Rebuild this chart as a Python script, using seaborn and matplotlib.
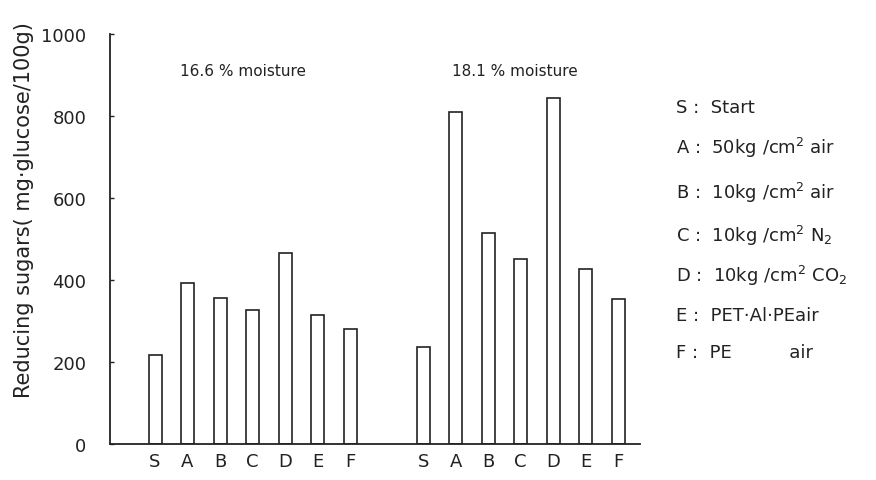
import matplotlib
matplotlib.use("Agg")
import matplotlib.pyplot as plt
import seaborn as sns
import pandas as pd
import numpy as np

# ---- data ----
treatments = ["S", "A", "B", "C", "D", "E", "F"]
moisture_groups = ["16.6 % moisture", "18.1 % moisture"]
sugars_166 = [217, 393, 356, 328, 466, 315, 280]
sugars_181 = [236, 810, 515, 452, 845, 428, 354]
legend_lines = [
    "S :  Start",
    "A :  50kg /cm$^2$ air",
    "B :  10kg /cm$^2$ air",
    "C :  10kg /cm$^2$ N$_2$",
    "D :  10kg /cm$^2$ CO$_2$",
    "E :  PET·Al·PEair",
    "F :  PE          air",
]
y_label = "Reducing sugars( mg·glucose/100g)"

sns.set_theme(style="white")
plt.rcParams["font.family"] = ["DejaVu Sans"]

group_offset = 8.25
n = len(treatments)
pos = [i for i in range(n)] + [group_offset + i for i in range(n)]
df = pd.DataFrame({
    "pos": pos,
    "value": sugars_166 + sugars_181,
    "label": treatments + treatments,
})

fig = plt.figure(figsize=(8.76, 4.81), dpi=100)
ax = fig.add_axes([110 / 876, 1 - 445 / 481, 530 / 876, 410 / 481])

sns.barplot(data=df, x="pos", y="value", native_scale=True, width=0.4,
            color="white", edgecolor="#222222", linewidth=1.2, ax=ax)

ax.set_xlim((110 - 155) / 32.5, (640 - 155) / 32.5)
ax.set_ylim(0, 1000)
ax.set_xticks(pos)
ax.set_xticklabels(df["label"], fontsize=13, color="#222222")
ax.set_yticks([0, 200, 400, 600, 800, 1000])
ax.set_yticklabels(["0", "200", "400", "600", "800", "1000"], fontsize=13, color="#222222")
ax.tick_params(axis="y", direction="in", length=3, width=1, pad=17, left=True, color="#222222")
ax.tick_params(axis="x", length=0, pad=6)
ax.set_xlabel("")
ax.set_ylabel(y_label, fontsize=15, color="#222222")
ax.yaxis.set_label_coords((34 - 110) / 530, (445 - 210) / 410)

sns.despine(ax=ax, top=True, right=True)
for s in ["left", "bottom"]:
    ax.spines[s].set_color("#222222")
    ax.spines[s].set_linewidth(1.3)

ax.text(243 / 876, 1 - 72 / 481, moisture_groups[0], transform=fig.transFigure,
        ha="center", va="center", fontsize=11, color="#222222")
ax.text(515 / 876, 1 - 72 / 481, moisture_groups[1], transform=fig.transFigure,
        ha="center", va="center", fontsize=11, color="#222222")

legend_y = [108, 148, 193, 236, 276, 316, 353]
for txt, yy in zip(legend_lines, legend_y):
    fig.text(676 / 876, 1 - yy / 481, txt, ha="left", va="center",
             fontsize=13, color="#222222")

fig.savefig("out.png", dpi=100)
